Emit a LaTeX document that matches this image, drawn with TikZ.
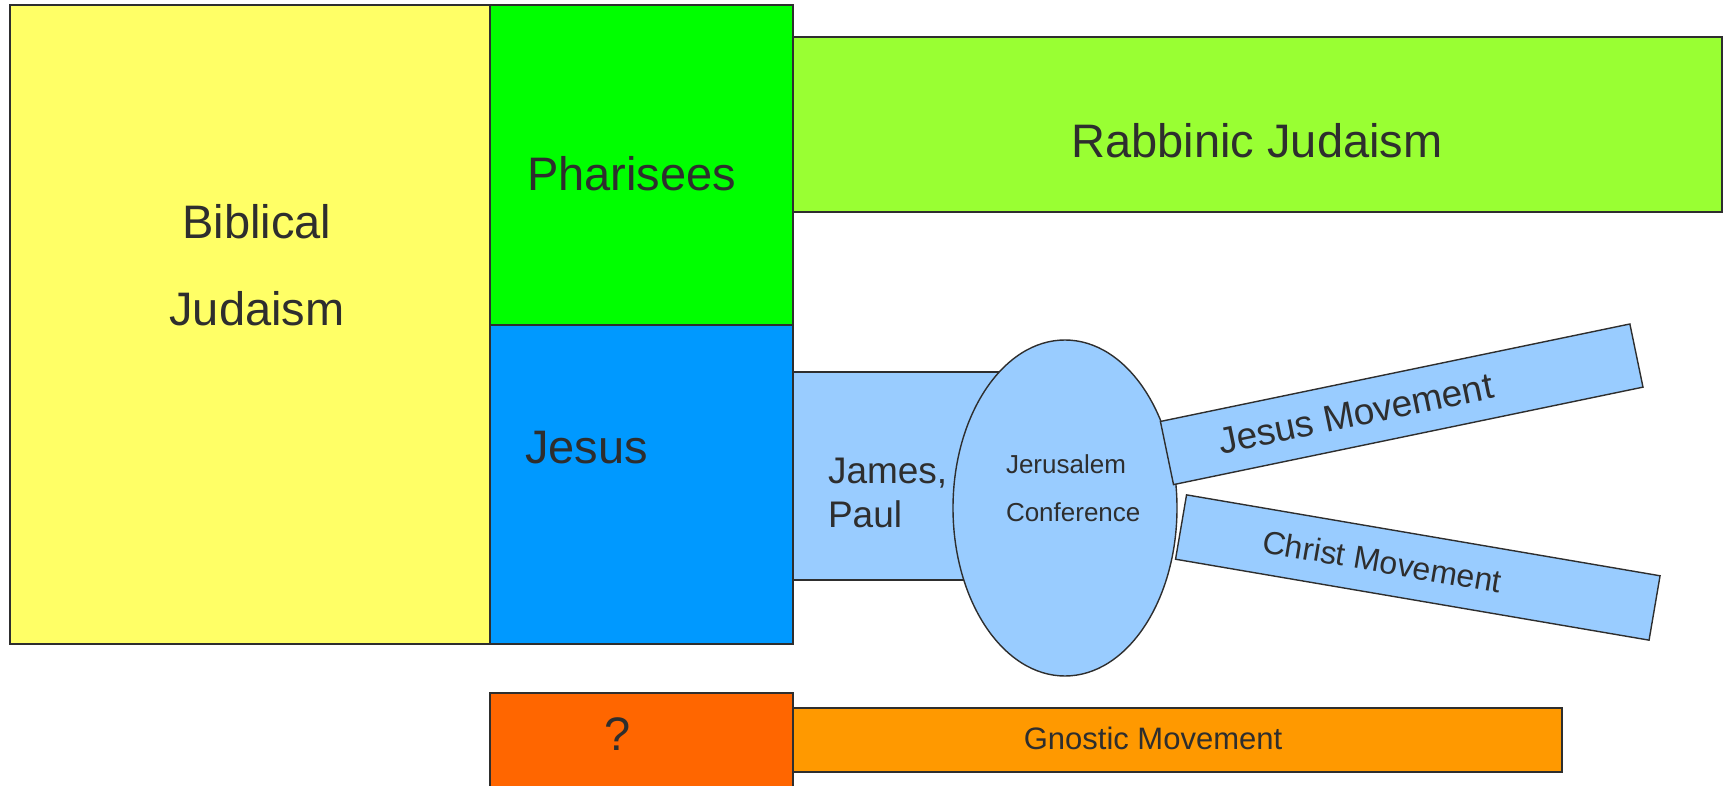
\documentclass[tikz,border=0pt]{standalone}
\usepackage{fontspec}
\setmainfont{Liberation Sans}
\usetikzlibrary{shapes.geometric}
\definecolor{yel}{HTML}{FFFF66}
\definecolor{grn}{HTML}{00FF00}
\definecolor{blu}{HTML}{0099FF}
\definecolor{limeg}{HTML}{99FF33}
\definecolor{lblu}{HTML}{99CCFF}
\definecolor{orgA}{HTML}{FF6600}
\definecolor{orgB}{HTML}{FF9900}
\definecolor{ink}{HTML}{2E2E2E}
\newcommand{\fsz}[1]{\fontsize{#1}{#1}\selectfont}
\tikzset{
  box/.style={draw=ink, line width=1.4pt, inner sep=0pt, outer sep=0pt, rectangle},
  lbl/.style={text=ink, inner sep=0pt, outer sep=0pt},
}
\begin{document}
\begin{tikzpicture}[x=1pt,y=-1pt]
\useasboundingbox (0,0) rectangle (1725,786);
\clip (0,0) rectangle (1725,786);
% main blocks
\node[box, fill=yel, minimum width=480, minimum height=639] (biblical) at (250,324.5) {};
\node[box, fill=grn, minimum width=303, minimum height=320] (pharisees) at (641.5,165) {};
\node[box, fill=blu, minimum width=303, minimum height=319] (jesus) at (641.5,484.5) {};
\node[box, fill=limeg, minimum width=929, minimum height=175] (rabbinic) at (1257.5,124.5) {};
\node[box, fill=lblu, minimum width=272, minimum height=208] (jamespaul) at (929,476) {};
\node[box, ellipse, fill=lblu, minimum width=224, minimum height=336] (conf) at (1065,508) {};
\node[box, fill=lblu, rotate=11.73, minimum width=479.5, minimum height=64.5] (jm) at (1401.7,404.3) {};
\node[box, fill=lblu, rotate=-9.7, minimum width=480.4, minimum height=65.3] (cm) at (1417.8,567.5) {};
\node[box, fill=orgA, minimum width=303, minimum height=127] (qbox) at (641.5,756.5) {};
\node[box, fill=orgB, minimum width=769, minimum height=64] (gnostic) at (1177.5,740) {};
% labels
\node[lbl, anchor=base, font=\fsz{47}] (tBib) at (257,239) {Biblical};
\node[lbl, anchor=base, font=\fsz{47}] (tJud) at (257,326) {Judaism};
\node[lbl, anchor=base west, font=\fsz{47}] (tPh) at (527,191) {Pharisees};
\node[lbl, anchor=base west, font=\fsz{47}] (tJe) at (525,463) {Jesus};
\node[lbl, anchor=base, font=\fsz{47}] (tRJ) at (1257,158) {Rabbinic Judaism};
\node[lbl, anchor=base west, font=\fsz{37}] (tJa) at (828,483) {James,};
\node[lbl, anchor=base west, font=\fsz{37}] (tPa) at (828,527) {Paul};
\node[lbl, anchor=base west, font=\fsz{26}] (tJer) at (1006,473) {Jerusalem};
\node[lbl, anchor=base west, font=\fsz{26}] (tCon) at (1006,521) {Conference};
\node[lbl, rotate=11.73, font=\fsz{37}] (tJM) at (1355.7,413.9) {Jesus Movement};
\node[lbl, rotate=-9.7, font=\fsz{32}] (tCM) at (1382.3,561.4) {Christ Movement};
\node[lbl, anchor=base, font=\fsz{47}] (tQ) at (618,750) {?};
\node[lbl, anchor=base, font=\fsz{31}] (tGM) at (1153,749) {Gnostic Movement};
\end{tikzpicture}
\end{document}
